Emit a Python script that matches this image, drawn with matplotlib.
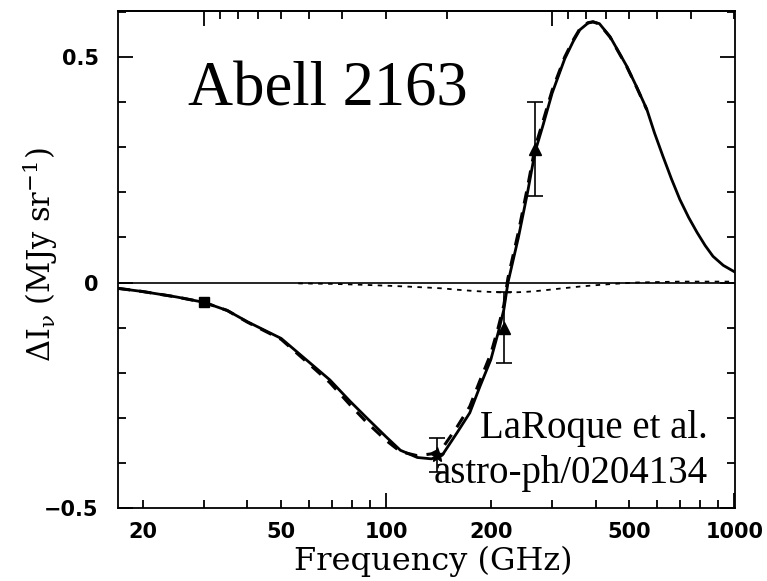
import matplotlib
matplotlib.use("Agg")
import matplotlib.pyplot as plt
from matplotlib.ticker import FixedLocator, NullFormatter, FixedFormatter, MultipleLocator

# ---------------- data ----------------
model_freq = [17, 20, 25, 30, 35, 40, 50, 60, 69, 79, 88, 100, 110, 123, 135, 145,
              160, 174, 186, 200, 210, 218, 224, 240, 255, 268, 282, 300, 326, 345,
              360, 380, 393, 410, 440, 491, 525, 561, 590, 624, 660, 698, 740, 782,
              825, 869, 930, 1000]
model_val = [-0.013, -0.020, -0.032, -0.044, -0.062, -0.087, -0.124, -0.176, -0.216,
             -0.264, -0.300, -0.342, -0.372, -0.388, -0.391, -0.383, -0.333, -0.289,
             -0.231, -0.171, -0.111, -0.060, 0.000, 0.100, 0.200, 0.290, 0.347, 0.420,
             0.496, 0.535, 0.560, 0.575, 0.578, 0.574, 0.545, 0.480, 0.433, 0.384,
             0.332, 0.280, 0.230, 0.184, 0.144, 0.111, 0.082, 0.058, 0.038, 0.024]

alt_freq = [17, 20, 25, 30, 35, 40, 50, 60, 69, 79, 88, 100, 110, 123, 135, 145,
            160, 174, 186, 200, 210, 218, 224, 240, 255, 268, 282, 300, 326, 345,
            360, 380, 393, 410, 440, 491, 525, 561]
alt_val = [-0.013, -0.020, -0.032, -0.044, -0.062, -0.088, -0.126, -0.180, -0.222,
           -0.272, -0.310, -0.350, -0.375, -0.384, -0.380, -0.368, -0.320, -0.275,
           -0.218, -0.158, -0.100, -0.050, 0.010, 0.112, 0.212, 0.300, 0.356, 0.426,
           0.500, 0.538, 0.562, 0.576, 0.578, 0.573, 0.544, 0.479, 0.432, 0.383]

kin_freq = [56, 70, 85, 100, 115, 130, 145, 160, 180, 200, 215, 230, 250, 270, 295,
            320, 360, 400, 450, 525, 600, 700, 800, 1000]
kin_val = [-0.002, -0.003, -0.005, -0.007, -0.009, -0.011, -0.013, -0.016, -0.019,
           -0.021, -0.022, -0.022, -0.021, -0.019, -0.016, -0.013, -0.009, -0.006,
           -0.003, 0.000, 0.001, 0.002, 0.002, 0.002]

data_freq = [30, 140, 218, 268]
data_val = [-0.044, -0.382, -0.100, 0.296]
data_err = [0.004, 0.038, 0.078, 0.105]

xtick_vals = [20, 50, 100, 200, 500, 1000]
xtick_labels = ["20", "50", "100", "200", "500", "1000"]
ytick_vals = [-0.5, 0, 0.5]
ytick_labels = ["\u22120.5", "0", "0.5"]
wavelength_mm = [10, 9, 8, 7, 6, 5, 4, 3, 2, 1, 0.9, 0.8, 0.7, 0.6, 0.5, 0.4, 0.3]

title_text = "Abell 2163"
credit_line1 = "LaRoque et al."
credit_line2 = "astro-ph/0204134"

# ---------------- figure ----------------
plt.rcParams['mathtext.fontset'] = 'dejavuserif'
plt.rcParams['mathtext.default'] = 'rm'

fig = plt.figure(figsize=(7.67, 5.81), dpi=100)
ax = fig.add_axes([118/767, 1-508/581, (735-118)/767, (508-11)/581])

ax.axhline(0, color='black', lw=1.2, zorder=1)
ax.plot(kin_freq, kin_val, color='black', lw=1.3, ls=(0, (2.5, 3)), zorder=2)
ax.plot(alt_freq, alt_val, color='black', lw=2.2, ls=(0, (4, 3)), zorder=3)
ax.plot(model_freq, model_val, color='black', lw=2.0, zorder=4)

markers = ['s', '*', '^', '^']
msizes = [7, 11, 9, 9]
caps = [0, 6, 6, 6]
for f, v, e, m, s, c in zip(data_freq, data_val, data_err, markers, msizes, caps):
    ax.errorbar([f], [v], yerr=[e], fmt=m, color='black', ms=s, capsize=c,
                elinewidth=1.2, capthick=1.2, zorder=5)

ax.set_xscale('log')
ax.set_xlim(17, 1005)
ax.set_ylim(-0.5, 0.602)

# x ticks
ax.xaxis.set_major_locator(FixedLocator([100, 1000]))
ax.xaxis.set_minor_locator(FixedLocator([20, 30, 40, 50, 60, 70, 80, 90,
                                         200, 300, 400, 500, 600, 700, 800, 900]))
ax.xaxis.set_major_formatter(NullFormatter())
ax.xaxis.set_minor_formatter(NullFormatter())
for v, lab in zip(xtick_vals, xtick_labels):
    ax.text(v, -0.532, lab, ha='center', va='top', fontsize=15, fontweight='bold',
            family='DejaVu Sans', transform=ax.transData, clip_on=False)

ax.yaxis.set_major_locator(FixedLocator(ytick_vals))
ax.yaxis.set_major_formatter(FixedFormatter(ytick_labels))
ax.yaxis.set_minor_locator(MultipleLocator(0.1))
for lab in ax.get_yticklabels():
    lab.set_fontsize(15)
    lab.set_fontweight('bold')
    lab.set_family('DejaVu Sans')

ax.tick_params(which='both', direction='in', top=False, right=True, width=1.3)
ax.tick_params(which='major', length=11)
ax.tick_params(which='minor', length=6)
ax.tick_params(axis='y', which='major', pad=14)

# top wavelength axis (ticks only)
top = ax.secondary_xaxis('top', functions=(lambda x: 300.0 / x, lambda x: 300.0 / x))
top.xaxis.set_major_locator(FixedLocator([10, 1]))
top.xaxis.set_minor_locator(FixedLocator([w for w in wavelength_mm if w not in (10, 1)]))
top.xaxis.set_major_formatter(NullFormatter())
top.xaxis.set_minor_formatter(NullFormatter())
top.tick_params(which='both', direction='in', width=1.3)
top.tick_params(which='major', length=11)
top.tick_params(which='minor', length=6)

for sp in ax.spines.values():
    sp.set_linewidth(1.3)
top.spines['top'].set_linewidth(1.3)

fig.text(433/767, 1-561/581, "Frequency (GHz)", ha='center', va='center',
         fontsize=23, family='DejaVu Serif')
fig.text(40/767, 1-255/581, r'$\Delta$I$_\nu$ (MJy sr$^{-1}$)', ha='center', va='center',
         rotation=90, fontsize=22, family='DejaVu Serif')

fig.text(188/767, 1-106/581, title_text, ha='left', va='baseline', fontsize=45,
         family='Liberation Serif')
fig.text(708/767, 1-438/581, credit_line1, ha='right', va='baseline', fontsize=28,
         family='Liberation Serif')
fig.text(708/767, 1-483/581, credit_line2, ha='right', va='baseline', fontsize=28,
         family='Liberation Serif')

fig.savefig('out.png', dpi=100)
